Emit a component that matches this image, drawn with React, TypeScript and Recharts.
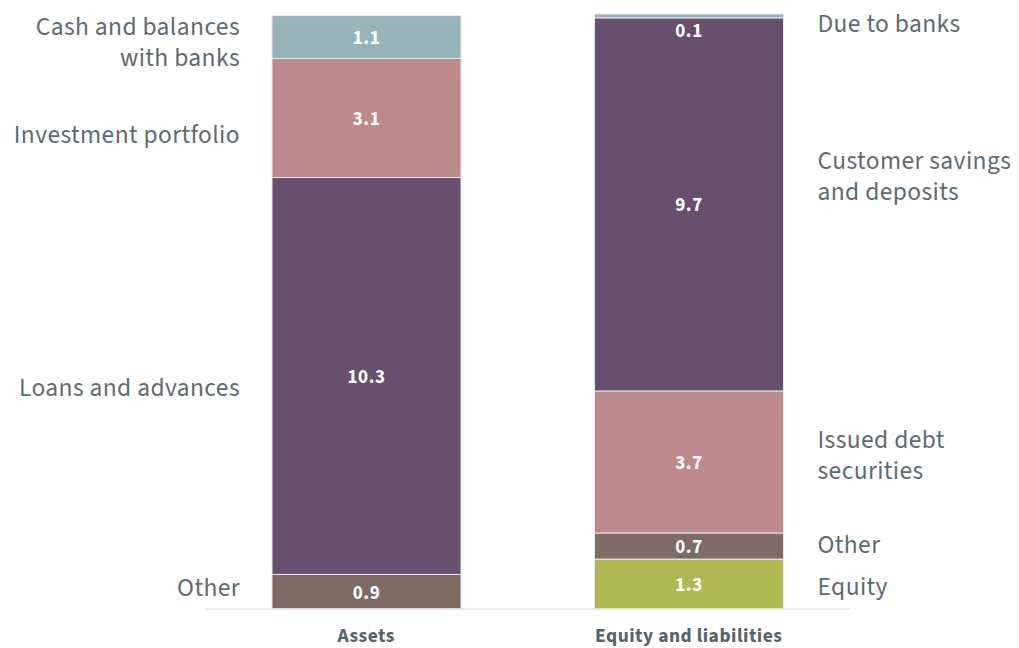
import React from "react";
import { BarChart, Bar, XAxis, YAxis, LabelList } from "recharts";

const categories = ["Assets", "Equity and liabilities"];

const assetItems = [
  "Other",
  "Loans and advances",
  "Investment portfolio",
  "Cash and balances\nwith banks",
];
const assetValues = [0.9, 10.34, 3.1, 1.12];

const liabilityItems = [
  "Equity",
  "Other",
  "Issued debt\nsecurities",
  "Customer savings\nand deposits",
  "Due to banks",
];
const liabilityValues = [1.3, 0.68, 3.7, 9.72, 0.1];

// styles (kept apart from data)
const assetColors = ["#7d6b64", "#674f6e", "#bd8a8b", "#97b4b8"];
const liabilityColors = ["#afb852", "#7d6b64", "#bd8a8b", "#674f6e", "#97b4b8"];
const assetLabelShift = [-4, 12.5, 16.5, -10.5];
const liabilityLabelShift = [3, -1, -22, -43.5, 8];

const FONT = "'Source Sans Pro', 'Source Sans 3', Lato, 'Noto Sans', sans-serif";
const LABEL_COLOR = "#5f6b73";
const LINE_H = 31;

type Series = {
  key: string;
  name: string;
  color: string;
  shift: number;
  side: "left" | "right";
};

const series: Series[] = [
  ...assetItems.map((name, i) => ({
    key: `a${i}`,
    name,
    color: assetColors[i],
    shift: assetLabelShift[i],
    side: "left" as const,
  })),
  ...liabilityItems.map((name, i) => ({
    key: `l${i}`,
    name,
    color: liabilityColors[i],
    shift: liabilityLabelShift[i],
    side: "right" as const,
  })),
];

const data = categories.map((category, ci) => {
  const row: Record<string, any> = { category };
  assetValues.forEach((v, i) => (row[`a${i}`] = ci === 0 ? v : 0));
  liabilityValues.forEach((v, i) => (row[`l${i}`] = ci === 1 ? v : 0));
  return row;
});

const makeLabel = (s: Series) => (props: any) => {
  const { x, y, width, height, value } = props;
  if (!value) return null;
  const cx = Number(x) + Number(width) / 2;
  const cy = Number(y) + Number(height) / 2;
  const small = Number(height) < 20;
  const valueY = small ? Number(y) + Number(height) + 14 : cy + 1.5;
  const lines = s.name.split("\n");
  const lx = s.side === "left" ? Number(x) - 32 : Number(x) + Number(width) + 34;
  const anchor = s.side === "left" ? "end" : "start";
  return (
    <g>
      <text
        x={cx}
        y={valueY}
        textAnchor="middle"
        dominantBaseline="central"
        fill="#ffffff"
        fontSize={19}
        fontWeight={700}
        letterSpacing={0.6}
        fontFamily={FONT}
      >
        {Number(value).toFixed(1)}
      </text>
      {lines.map((ln, i) => (
        <text
          key={i}
          x={lx}
          y={cy + s.shift + i * LINE_H}
          textAnchor={anchor}
          dominantBaseline="central"
          fill={LABEL_COLOR}
          fontSize={25.5}
          letterSpacing={0.4}
          fontFamily={FONT}
        >
          {ln}
        </text>
      ))}
    </g>
  );
};

export default function App() {
  return (
    <div style={{ width: 1011, height: 640, fontFamily: FONT }}>
      <BarChart
        width={1011}
        height={640}
        data={data}
        margin={{ top: 6, right: 169, bottom: 0, left: 197 }}
        barSize={189}
      >
        <XAxis
          dataKey="category"
          axisLine={{ stroke: "#e6e6e6", strokeWidth: 1.5 }}
          tickLine={false}
          height={39}
          tickMargin={13}
          tick={{ fill: "#56646b", fontSize: 19.5, fontWeight: 700, fontFamily: FONT, letterSpacing: 0.5 }}
        />
        <YAxis hide domain={[0, 15.5]} />
        {series.map((s) => (
          <Bar
            key={s.key}
            dataKey={s.key}
            stackId="s"
            fill={s.color}
            stroke="#ece6ec"
            strokeWidth={1}
            isAnimationActive={false}
          >
            <LabelList dataKey={s.key} content={makeLabel(s)} />
          </Bar>
        ))}
      </BarChart>
    </div>
  );
}
